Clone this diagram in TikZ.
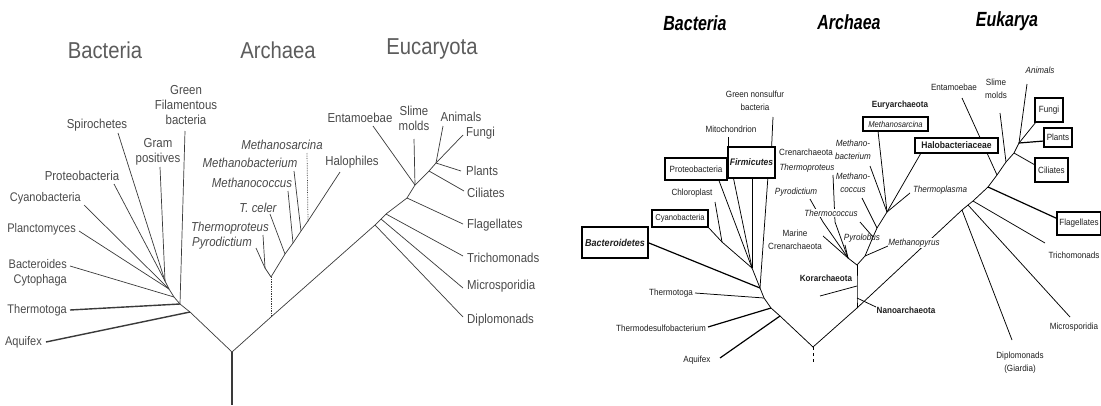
\documentclass[tikz,border=0pt]{standalone}
\usepackage{fontspec}
\setmainfont{Liberation Sans}
\newfontfamily\lfont[FakeStretch=0.88]{Liberation Sans}
\newfontfamily\rfont[FakeStretch=0.9]{Liberation Sans}
\newfontfamily\tfont[FakeStretch=0.78]{Liberation Sans}
\definecolor{ltext}{HTML}{4A4A4A}
\definecolor{lline}{HTML}{3A3A3A}
\definecolor{rtext}{HTML}{1E1E1E}
\begin{document}
\begin{tikzpicture}[x=1pt,y=-1pt,
  ltitle/.style={font=\lfont\fontsize{23}{26}\selectfont, text=ltext!90, inner sep=0},
  lt/.style={font=\lfont\fontsize{13}{15}\selectfont, text=ltext, inner sep=0, align=center},
  ltedge/.style={lt, font=\lfont\fontsize{12.5}{15}\selectfont},
  lti/.style={lt, font=\lfont\itshape\fontsize{13}{15}\selectfont},
  ll/.style={draw=lline, line width=0.7pt},
  lthick/.style={draw=lline, line width=1.4pt},
  ldot/.style={draw=lline, line width=0.7pt, densely dotted},
  rtitle/.style={font=\tfont\bfseries\itshape\fontsize{20.5}{24}\selectfont, text=black, inner sep=0},
  rt/.style={font=\rfont\fontsize{9}{13}\selectfont, text=rtext, inner sep=0.5pt, align=center},
  rti/.style={rt, font=\rfont\itshape\fontsize{9}{13}\selectfont},
  rtb/.style={rt, font=\rfont\bfseries\fontsize{9}{13}\selectfont},
  rbox/.style={draw=black, line width=1.6pt, fill=white, inner sep=1pt, font=\rfont\fontsize{9}{11}\selectfont, text=rtext},
  rl/.style={draw=black, line width=0.75pt},
  rthick/.style={draw=black, line width=1.2pt}
]
\useasboundingbox (0,0) rectangle (1101,405);
\fill[white] (0,0) rectangle (1101,405);

% ================= LEFT TREE: coordinates =================
\coordinate (L0) at (232,352);
\coordinate (Lbot) at (232,405);
\coordinate (LB0) at (190,312);
\coordinate (LB1) at (180,304);
\coordinate (LB2) at (174,297);
\coordinate (LB3) at (169,289);
\coordinate (LB4) at (165,281);
\coordinate (aqE) at (46,342);
\coordinate (thE) at (70,310);
\coordinate (bcE) at (70,266);
\coordinate (plE) at (79,231);
\coordinate (cyE) at (84,205);
\coordinate (prE) at (114,184);
\coordinate (spE) at (118,133);
\coordinate (gpE) at (160,167);
\coordinate (gfE) at (185,131);
\coordinate (LA0) at (271,317);
\coordinate (LA1) at (271,277);
\coordinate (LA2) at (265,268);
\coordinate (LA3) at (285,254);
\coordinate (LA4) at (293,243);
\coordinate (LA5) at (301,231);
\coordinate (LA6) at (308,221);
\coordinate (tpE) at (263,235);
\coordinate (pyE) at (256,248);
\coordinate (tcE) at (270,214);
\coordinate (mcE) at (288,191);
\coordinate (mbE) at (294,171);
\coordinate (msE) at (307,153);
\coordinate (haE) at (340,172);
\coordinate (LE1) at (375,225);
\coordinate (LE2) at (381,219);
\coordinate (LE3) at (386,214);
\coordinate (LE4) at (407,198);
\coordinate (LE5) at (415,185);
\coordinate (LE6) at (429,171);
\coordinate (LE7) at (436,163);
\coordinate (dpE) at (463,317);
\coordinate (miE) at (463,288);
\coordinate (trE) at (463,256);
\coordinate (flE) at (463,224);
\coordinate (ciE) at (464,191);
\coordinate (plaE) at (461,171);
\coordinate (fuE) at (463,135);
\coordinate (anE) at (443,126);
\coordinate (smE) at (414,139);
\coordinate (enE) at (373,126);

% ---- left connectors
\draw[lthick] (L0) -- (Lbot);
\draw[ll] (L0) -- (LB0) -- (LB1) -- (LB2) -- (LB3) -- (LB4);
\draw[lthick] (aqE) -- (LB0);
\draw[lthick] (thE) -- (LB1);
\draw[ll] (bcE) -- (LB2);
\draw[ll] (plE) -- (LB3);
\draw[ll] (cyE) -- (LB3);
\draw[ll] (prE) -- (LB4);
\draw[ll] (spE) -- (LB4);
\draw[ll] (gpE) -- (LB4);
\draw[ll] (gfE) -- (LB1);
\draw[ll] (L0) -- (LA0) -- (LE1) -- (LE2) -- (LE3) -- (LE4) -- (LE5) -- (LE6) -- (LE7);
\draw[ldot] (LA0) -- (LA1);
\draw[ll] (LA1) -- (LA2);
\draw[ll] (tpE) -- (LA2);
\draw[ll] (pyE) -- (LA2);
\draw[ll] (LA1) -- (LA3) -- (LA4) -- (LA5) -- (LA6);
\draw[ll] (tcE) -- (LA3);
\draw[ll] (mcE) -- (LA4);
\draw[ll] (mbE) -- (LA5);
\draw[ldot] (msE) -- (LA6);
\draw[ll] (haE) -- (LA6);
\draw[ll] (dpE) -- (LE1);
\draw[ll] (miE) -- (LE2);
\draw[ll] (trE) -- (LE3);
\draw[ll] (flE) -- (LE4);
\draw[ll] (enE) -- (LE5);
\draw[ll] (smE) -- (LE5);
\draw[ll] (ciE) -- (LE6);
\draw[ll] (plaE) -- (LE7);
\draw[ll] (fuE) -- (LE7);
\draw[ll] (anE) -- (LE7);

% ---- left labels
\node[ltitle] (tBac) at (105,50) {Bacteria};
\node[ltitle] (tArc) at (278,50) {Archaea};
\node[ltitle] (tEuc) at (432,49) {Eucaryota};
\node[lt] (gf) at (186,105) {Green\\Filamentous\\bacteria};
\node[lt] (gp) at (158,152) {Gram\\positives};
\node[lt] (sp) at (97,125) {Spirochetes};
\node[lt] (pr) at (82,176) {Proteobacteria};
\node[ltedge,anchor=east] (cy) at (81,198) {Cyanobacteria};
\node[ltedge,anchor=east] (pl) at (76,229) {Planctomyces};
\node[ltedge,anchor=east,align=right] (bc) at (67,273) {Bacteroides\\Cytophaga};
\node[ltedge,anchor=east] (tt) at (67,310) {Thermotoga};
\node[ltedge,anchor=east] (aq) at (42,342) {Aquifex};
\node[lti] (ms) at (282,145) {Methanosarcina};
\node[lti] (mb) at (250,163) {Methanobacterium};
\node[lti] (mc) at (252,183) {Methanococcus};
\node[lt] (ha) at (352,162) {Halophiles};
\node[lti] (tc) at (258,208) {T. celer};
\node[lti] (tp) at (230,228) {Thermoproteus};
\node[lti] (py) at (222,243) {Pyrodictium};
\node[lt] (en) at (360,118) {Entamoebae};
\node[lt] (sm) at (414,118) {Slime\\molds};
\node[lt] (an) at (461,117) {Animals};
\node[lt,anchor=west] (fu) at (466,133) {Fungi};
\node[lt,anchor=west] (pla) at (466,171) {Plants};
\node[lt,anchor=west] (ci) at (467,193) {Ciliates};
\node[lt,anchor=west] (fl) at (467,225) {Flagellates};
\node[lt,anchor=west] (tr) at (467,258) {Trichomonads};
\node[lt,anchor=west] (mi) at (467,286) {Microsporidia};
\node[lt,anchor=west] (dp) at (467,320) {Diplomonads};

% ================= RIGHT TREE: coordinates =================
\coordinate (B1) at (752,268);
\coordinate (B2) at (760,288);
\coordinate (B3) at (764,298);
\coordinate (B4) at (771,308);
\coordinate (B5) at (780,316);
\coordinate (R) at (813,347);
\coordinate (Rs) at (813,362);
\coordinate (gnsE) at (773,117);
\coordinate (gnsIn) at (771,160);
\coordinate (fiR) at (768,176);
\coordinate (fiL) at (733,176);
\coordinate (fiM) at (752,176);
\coordinate (mitE) at (728,137);
\coordinate (mitIn) at (728,162);
\coordinate (prB) at (718,178);
\coordinate (cyRE) at (708,227);
\coordinate (cc) at (722,242);
\coordinate (chE) at (715,202);
\coordinate (bdE) at (649,243);
\coordinate (ttE) at (695,293);
\coordinate (tdE) at (708,327);
\coordinate (aqRE) at (720,358);
\coordinate (K) at (857,308);
\coordinate (KN) at (857,298);
\coordinate (KK) at (857,286);
\coordinate (A) at (857,265);
\coordinate (C) at (848,258);
\coordinate (E1) at (865,256);
\coordinate (thcJ) at (873,237);
\coordinate (E2) at (877,228);
\coordinate (E3) at (887,212);
\coordinate (naE) at (876,307);
\coordinate (koE) at (820,296);
\coordinate (tprE) at (833,175);
\coordinate (tprM) at (835,222);
\coordinate (pdE) at (810,199);
\coordinate (pdM) at (823,222);
\coordinate (mcrE) at (823,236);
\coordinate (plbE) at (845,245);
\coordinate (thcE) at (860,222);
\coordinate (mccE) at (862,198);
\coordinate (mbrE) at (870,166);
\coordinate (msB) at (878,131);
\coordinate (haB) at (921,153);
\coordinate (tplE) at (910,193);
\coordinate (mpE) at (888,246);
\coordinate (H1) at (962,210);
\coordinate (H2) at (968,205);
\coordinate (H3) at (973,201);
\coordinate (H4) at (988,187);
\coordinate (H5) at (997,175);
\coordinate (H6) at (1006,162);
\coordinate (H7) at (1014,153);
\coordinate (H8) at (1019,143);
\coordinate (dpRE) at (1012,340);
\coordinate (miRE) at (1070,317);
\coordinate (trRE) at (1045,243);
\coordinate (flRE) at (1058,219);
\coordinate (enRE) at (962,98);
\coordinate (smRE) at (1000,113);
\coordinate (ciRE) at (1035,165);
\coordinate (anRE) at (1027,84);
\coordinate (fuRE) at (1036,122);
\coordinate (plRE) at (1044,141);

% ---- right connectors
\draw[rl, dashed] (R) -- (Rs);
\draw[rl] (B1) -- (B2) -- (B3) -- (B4) -- (B5) -- (R) -- (K);
\draw[rl] (gnsE) -- (gnsIn);
\draw[rl] (mitE) -- (mitIn);
\draw[rl] (fiR) -- (B2);
\draw[rl] (fiL) -- (B1);
\draw[rl] (fiM) -- (B1);
\draw[rl] (prB) -- (B1);
\draw[rl] (cyRE) -- (cc) -- (B1);
\draw[rl] (chE) -- (cc);
\draw[rthick] (bdE) -- (B2);
\draw[rl] (ttE) -- (B3);
\draw[rthick] (tdE) -- (B4);
\draw[rthick] (aqRE) -- (B5);
\draw[rl] (K) -- (KN) -- (KK) -- (A);
\draw[rl] (naE) -- (KN);
\draw[rl] (koE) -- (KK);
\draw[rl] (A) -- (C);
\draw[rl] (A) -- (E1) -- (thcJ) -- (E2) -- (E3);
\draw[rl] (tprE) -- (tprM) -- (C);
\draw[rl] (pdE) -- (pdM) -- (C);
\draw[rl] (mcrE) -- (C);
\draw[rl] (plbE) -- (C);
\draw[rl] (thcE) -- (thcJ);
\draw[rl] (mccE) -- (E2);
\draw[rl] (mbrE) -- (E3);
\draw[rl] (msB) -- (E3);
\draw[rl] (haB) -- (E3);
\draw[rl] (tplE) -- (E3);
\draw[rl] (mpE) -- (E1);
\draw[rl] (K) -- (H1) -- (H2) -- (H3) -- (H4) -- (H5) -- (H6) -- (H7) -- (H8);
\draw[rl] (dpRE) -- (H1);
\draw[rl] (miRE) -- (H2);
\draw[rl] (trRE) -- (H3);
\draw[rthick] (flRE) -- (H4);
\draw[rl] (enRE) -- (H5);
\draw[rl] (smRE) -- (H6);
\draw[rl] (ciRE) -- (H7);
\draw[rl] (anRE) -- (H8);
\draw[rl] (fuRE) -- (H8);
\draw[rthick] (plRE) -- (H8);

% ---- right labels
\node[rtitle] (rBac) at (695,23) {Bacteria};
\node[rtitle] (rArc) at (849,22) {Archaea};
\node[rtitle] (rEuk) at (1007,21) {Eukarya};
\node[rt] (gns) at (755,101) {Green nonsulfur\\bacteria};
\node[rt] (mito) at (731,129) {Mitochondrion};
\node[rbox, minimum width=62pt, minimum height=22pt] (prb) at (696,169) {Proteobacteria};
\node[rbox, minimum width=47pt, minimum height=31pt, font=\rfont\bfseries\itshape\fontsize{9.5}{11}\selectfont] (fib) at (751.5,162.5) {Firmicutes};
\node[rt] (chl) at (692,193) {Chloroplast};
\node[rbox, minimum width=56pt, minimum height=17pt, font=\rfont\fontsize{8.5}{10}\selectfont] (cyb) at (680,218.5) {Cyanobacteria};
\node[rbox, minimum width=66pt, minimum height=31pt, font=\rfont\bfseries\itshape\fontsize{10}{12}\selectfont] (bdb) at (615,242.5) {Bacteroidetes};
\node[rt] (tto) at (671,293) {Thermotoga};
\node[rt] (tds) at (661,328) {Thermodesulfobacterium};
\node[rt] (aqr) at (697,360) {Aquifex};
\node[rt] (cren) at (806,152) {Crenarchaeota};
\node[rti] (tpr) at (807,168) {Thermoproteus};
\node[rti] (pdr) at (796,192) {Pyrodictium};
\node[rti, fill=white] (thc) at (831,213) {Thermococcus};
\node[rti] (plb) at (862,238) {Pyrolobus};
\node[rt] (mcr) at (795,240) {Marine\\Crenarchaeota};
\node[rtb] (kor) at (826,278) {Korarchaeota};
\node[rtb] (nan) at (906,310) {Nanoarchaeota};
\node[rtb] (eury) at (900,105) {Euryarchaeota};
\node[rbox, minimum width=65pt, minimum height=14pt, font=\rfont\itshape\fontsize{8.5}{10}\selectfont] (msb) at (895.5,124) {Methanosarcina};
\node[rti] (mbr) at (853,150) {Methano-\\bacterium};
\node[rti] (mcc) at (853,183) {Methano-\\coccus};
\node[rbox, minimum width=83pt, minimum height=15pt, font=\rfont\bfseries\fontsize{9.5}{11}\selectfont] (hab) at (956.5,145.5) {Halobacteriaceae};
\node[rti] (tpl) at (940,190) {Thermoplasma};
\node[rti, fill=white] (mpy) at (914,243) {Methanopyrus};
\node[rt] (enr) at (954,87) {Entamoebae};
\node[rt] (smr) at (996,89) {Slime\\molds};
\node[rti] (anr) at (1040,70) {Animals};
\node[rbox, minimum width=28pt, minimum height=24pt] (fub) at (1049,110) {Fungi};
\node[rbox, minimum width=28pt, minimum height=19pt] (plb2) at (1058,137.5) {Plants};
\node[rbox, minimum width=33pt, minimum height=24pt] (cib) at (1051.5,170) {Ciliates};
\node[rbox, minimum width=44pt, minimum height=23pt] (flb) at (1079,223.5) {Flagellates};
\node[rt] (trr) at (1074,255) {Trichomonads};
\node[rt] (mir) at (1074,327) {Microsporidia};
\node[rt] (dpr) at (1020,363) {Diplomonads\\(Giardia)};
\end{tikzpicture}
\end{document}
